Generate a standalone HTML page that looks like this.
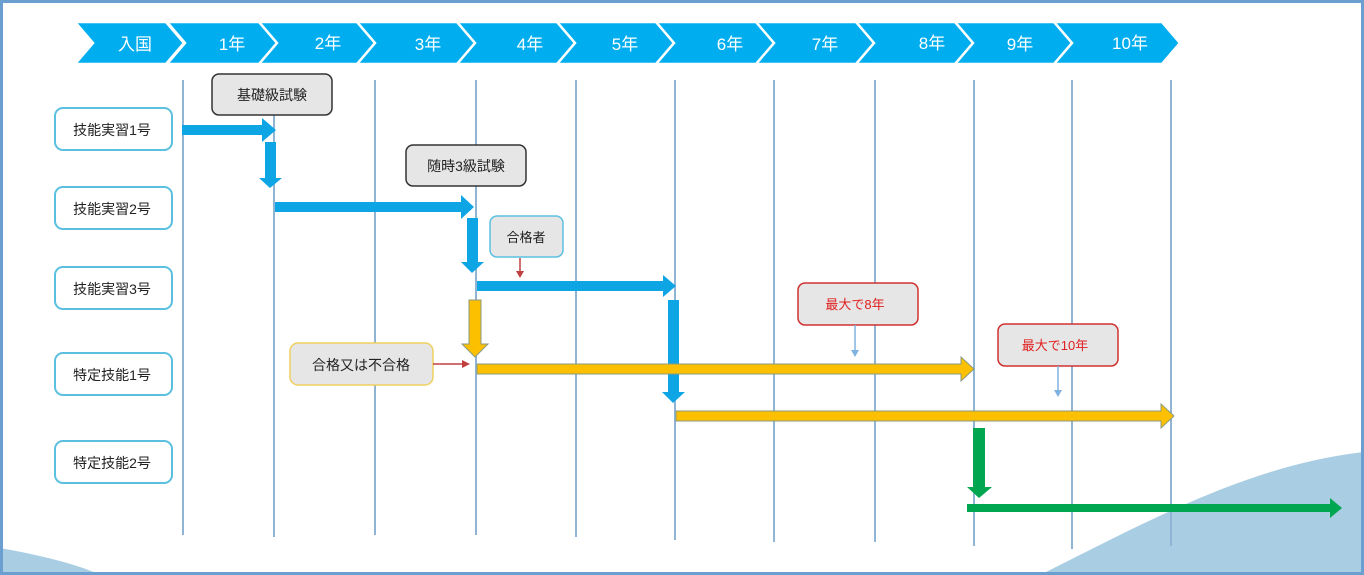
<!DOCTYPE html>
<html><head><meta charset="utf-8"><style>
html,body{margin:0;padding:0;background:#fff}
svg{display:block}
text{font-family:"Liberation Sans","Noto Sans CJK JP",sans-serif}
</style></head><body>
<svg width="1364" height="575" viewBox="0 0 1364 575" xmlns="http://www.w3.org/2000/svg">
<rect x="0" y="0" width="1364" height="575" fill="#fff"/>
<path d="M1040 575 C1150 520 1250 465 1364 452 L1364 575 Z" fill="#a9cde3"/>
<path d="M0 548 C40 555 80 565 100 575 L0 575 Z" fill="#a9cde3"/>
<rect x="1.5" y="1.5" width="1361" height="572" fill="none" stroke="#6a9fd0" stroke-width="3"/>
<g fill="#00aeef" stroke="#fff" stroke-width="2.5" stroke-linejoin="miter">
<polygon points="75,22 166,22 184,43 166,64 75,64 93,43"/>
<polygon points="167,22 266,22 284,43 266,64 167,64 185,43"/>
<polygon points="259,22 364,22 382,43 364,64 259,64 277,43"/>
<polygon points="357,22 464,22 482,43 464,64 357,64 375,43"/>
<polygon points="457,22 563,22 581,43 563,64 457,64 475,43"/>
<polygon points="557,22 662,22 680,43 662,64 557,64 575,43"/>
<polygon points="656,22 762,22 780,43 762,64 656,64 674,43"/>
<polygon points="756,22 862,22 880,43 862,64 756,64 774,43"/>
<polygon points="856,22 961,22 979,43 961,64 856,64 874,43"/>
<polygon points="955,22 1061,22 1079,43 1061,64 955,64 973,43"/>
<polygon points="1054,22 1162,22 1180,43 1162,64 1054,64 1072,43"/>
</g>
<g fill="#fff" font-size="17" text-anchor="middle">
<text x="135" y="50">入国</text><text x="232" y="50">1年</text><text x="328" y="49">2年</text>
<text x="428" y="50">3年</text><text x="530" y="50">4年</text><text x="625" y="50">5年</text>
<text x="730" y="50">6年</text><text x="825" y="50">7年</text><text x="932" y="49">8年</text>
<text x="1020" y="50">9年</text><text x="1130" y="49">10年</text>
</g>
<g stroke="#90b4d4" stroke-width="2">
<line x1="183" y1="80" x2="183" y2="535"/><line x1="274" y1="80" x2="274" y2="537"/>
<line x1="375" y1="80" x2="375" y2="535"/><line x1="476" y1="80" x2="476" y2="535"/>
<line x1="576" y1="80" x2="576" y2="537"/><line x1="675" y1="80" x2="675" y2="540"/>
<line x1="774" y1="80" x2="774" y2="542"/><line x1="875" y1="80" x2="875" y2="542"/>
<line x1="974" y1="80" x2="974" y2="546"/><line x1="1072" y1="80" x2="1072" y2="549"/>
<line x1="1171" y1="80" x2="1171" y2="546"/>
</g>
<g fill="#fff" stroke="#5bc0e0" stroke-width="2">
<rect x="55" y="108" width="117" height="42" rx="8"/>
<rect x="55" y="187" width="117" height="42" rx="8"/>
<rect x="55" y="267" width="117" height="42" rx="8"/>
<rect x="55" y="353" width="117" height="42" rx="8"/>
<rect x="55" y="441" width="117" height="42" rx="8"/>
</g>
<g font-size="14" fill="#222" text-anchor="middle">
<text x="112" y="135">技能実習1号</text><text x="112" y="214">技能実習2号</text>
<text x="112" y="294">技能実習3号</text><text x="112" y="380">特定技能1号</text>
<text x="112" y="468">特定技能2号</text>
</g>
<g fill="#0ea5e4">
<polygon points="182,125 262,125 262,118 276,130 262,142 262,135 182,135"/>
<polygon points="265,142 276,142 276,178 282,178 270,188 259,178 265,178"/>
<polygon points="275,202 461,202 461,195 474,207 461,219 461,212 275,212"/>
<polygon points="467,218 478,218 478,262 484,262 472,273 461,262 467,262"/>
<polygon points="477,281 663,281 663,275 676,286 663,297 663,291 477,291"/>
<polygon points="668,300 679,300 679,392 685,392 673,403 662,392 668,392"/>
</g>
<g fill="#fcc000" stroke="#8a9a80" stroke-width="1">
<polygon points="469,300 481,300 481,344 488,344 475,357 462,344 469,344"/>
<polygon points="477,364 961,364 961,357 974,369 961,381 961,374 477,374"/>
<polygon points="676,411 1161,411 1161,404 1174,416 1161,428 1161,421 676,421"/>
</g>
<g fill="#00a650">
<polygon points="973,428 985,428 985,487 992,487 979,498 967,487 973,487"/>
<polygon points="967,504 1330,504 1330,498 1342,508 1330,518 1330,512 967,512"/>
</g>
<g fill="#e6e6e6" stroke="#333" stroke-width="1.5">
<rect x="212" y="74" width="120" height="41" rx="7"/>
<rect x="406" y="145" width="120" height="41" rx="7"/>
</g>
<rect x="490" y="216" width="73" height="41" rx="7" fill="#e6e6e6" stroke="#5bc0e0" stroke-width="1.5"/>
<rect x="290" y="343" width="143" height="42" rx="8" fill="#e6e6e6" stroke="#f0cf60" stroke-width="1.5"/>
<rect x="798" y="283" width="120" height="42" rx="7" fill="#e6e6e6" stroke="#d03030" stroke-width="1.5"/>
<rect x="998" y="324" width="120" height="42" rx="7" fill="#e6e6e6" stroke="#d03030" stroke-width="1.5"/>
<g font-size="14" fill="#222" text-anchor="middle">
<text x="272" y="100">基礎級試験</text><text x="466" y="171">随時3級試験</text>
<text x="526" y="242" font-size="13">合格者</text><text x="361" y="370">合格又は不合格</text>
</g>
<g font-size="13" fill="#e02020" text-anchor="middle">
<text x="855" y="309">最大で8年</text><text x="1055" y="350">最大で10年</text>
</g>
<g stroke="#c04040" stroke-width="1.5" fill="#c04040">
<line x1="520" y1="258" x2="520" y2="272"/><polygon points="516,271 524,271 520,278" stroke="none"/>
<line x1="433" y1="364" x2="463" y2="364"/><polygon points="462,360 462,368 470,364" stroke="none"/>
</g>
<g stroke="#7fb2e0" stroke-width="1.5" fill="#7fb2e0">
<line x1="855" y1="325" x2="855" y2="351"/><polygon points="851,350 859,350 855,357" stroke="none"/>
<line x1="1058" y1="366" x2="1058" y2="391"/><polygon points="1054,390 1062,390 1058,397" stroke="none"/>
</g>
</svg>
</body></html>
